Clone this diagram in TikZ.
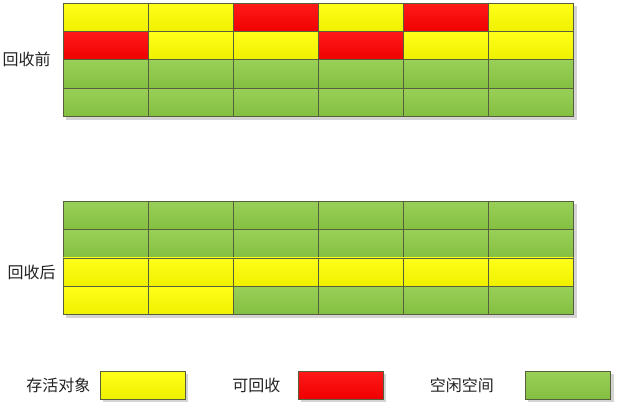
\documentclass[tikz,border=0pt]{standalone}
\usepackage{fontspec}
\setmainfont{Noto Sans CJK SC}
\usepackage{xcolor}
\usepackage{tikz}
\usetikzlibrary{positioning,backgrounds}
\definecolor{live}{HTML}{FFFF00}
\definecolor{dead}{HTML}{FF0000}
\definecolor{free}{HTML}{8DCB45}
\definecolor{cellborder}{HTML}{56603C}
\definecolor{gridshadow}{HTML}{D4D4D4}
\definecolor{textdark}{HTML}{222222}
\tikzset{
  cell/.style={
    draw=cellborder, line width=0.8pt,
    top color=#1!90!white, bottom color=#1!94!black,
    minimum width=85pt, minimum height=28.25pt,
    inner sep=0pt, anchor=north west,
  },
  keybox/.style={
    cell=#1, anchor=center, minimum height=28pt,
  },
  lbl/.style={font=\fontsize{16}{19}\selectfont, color=textdark, inner sep=0pt},
}

\begin{document}
\begin{tikzpicture}[x=1pt, y=-1pt]
  \useasboundingbox (0,0) rectangle (617,406);

  % before collection
  \foreach \r/\cols in {1/{live,live,dead,live,dead,live},
                        2/{dead,live,live,dead,live,live},
                        3/{free,free,free,free,free,free},
                        4/{free,free,free,free,free,free}}
    \foreach \c [count=\col] in \cols
      \node[cell=\c] (top-\r-\col) at ({63+85*(\col-1)},{3+28.25*(\r-1)}) {};

  % after collection
  \foreach \r/\cols in {1/{free,free,free,free,free,free},
                        2/{free,free,free,free,free,free},
                        3/{live,live,live,live,live,live},
                        4/{live,live,free,free,free,free}}
    \foreach \c [count=\col] in \cols
      \node[cell=\c] (bot-\r-\col) at ({63+85*(\col-1)},{201+28.25*(\r-1)}) {};

  \begin{scope}[on background layer]
    \fill[gridshadow] ([shift={(3,3)}]top-1-1.north west) rectangle ([shift={(3,3)}]top-4-6.south east);
    \fill[gridshadow] ([shift={(3,3)}]bot-1-1.north west) rectangle ([shift={(3,3)}]bot-4-6.south east);
  \end{scope}

  \node[lbl] (before) at (26.5,59) {回收前};
  \node[lbl] (after) at (31.5,272) {回收后};

  % legend
  \node[keybox=live] (keylive) at (142.5,385) {};
  \node[keybox=dead] (keydead) at (340.5,385) {};
  \node[keybox=free] (keyfree) at (568,385) {};
  \node[lbl, left=9pt of keylive] (txtlive) {存活对象};
  \node[lbl, left=17pt of keydead] (txtdead) {可回收};
  \node[lbl, left=31pt of keyfree] (txtfree) {空闲空间};

  \begin{scope}[on background layer]
    \foreach \k in {keylive,keydead,keyfree}
      \fill[gridshadow] ([shift={(3,3)}]\k.north west) rectangle ([shift={(3,3)}]\k.south east);
  \end{scope}

\end{tikzpicture}
\end{document}
